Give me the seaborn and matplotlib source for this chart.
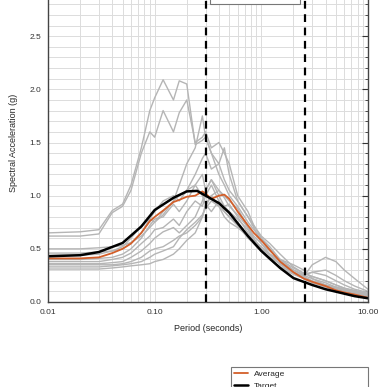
import numpy as np
import pandas as pd
import seaborn as sns
from matplotlib import pyplot as plt
from matplotlib.lines import Line2D
from matplotlib.patches import Rectangle
from matplotlib.ticker import FixedLocator, FixedFormatter, MultipleLocator, NullFormatter

# periods (s) for the target spectrum
target_period = [0.01, 0.02, 0.03, 0.05, 0.075, 0.1, 0.15, 0.2, 0.25, 0.3, 0.4,
                 0.5, 0.75, 1.0, 1.5, 2.0, 3.0, 4.0, 5.0, 7.5, 10.0]
target_sa = [0.43, 0.44, 0.47, 0.555, 0.71, 0.865, 0.98, 1.04, 1.045, 1.0, 0.93,
             0.84, 0.62, 0.48, 0.32, 0.225, 0.16, 0.12, 0.097, 0.055, 0.035]

# periods (s) for the scaled records and their average
rec_period = [0.01, 0.02, 0.03, 0.04, 0.05, 0.06, 0.075, 0.09, 0.1, 0.12, 0.15, 0.17,
              0.2, 0.24, 0.28, 0.3, 0.34, 0.4, 0.45, 0.5, 0.6, 0.75, 0.85, 1.0, 1.2,
              1.5, 2.0, 2.5, 3.0, 4.0, 5.0, 6.0, 7.5, 10.0]

average_sa = [0.41, 0.41, 0.42, 0.46, 0.50, 0.55, 0.65, 0.76, 0.80, 0.86, 0.94, 0.96,
              0.99, 1.00, 1.04, 1.02, 0.97, 1.00, 1.01, 0.97, 0.85, 0.72, 0.65, 0.58,
              0.49, 0.38, 0.28, 0.22, 0.19, 0.15, 0.11, 0.09, 0.07, 0.04]

record_sa = [
    [0.65, 0.66, 0.68, 0.86, 0.92, 1.10, 1.45, 1.80, 1.92, 2.09, 1.90, 2.08, 2.05, 1.48, 1.52, 1.55, 1.40,
     1.30, 1.45, 1.20, 0.95, 0.80, 0.70, 0.55, 0.45, 0.35, 0.27, 0.22, 0.18, 0.14, 0.11, 0.09, 0.07, 0.05],
    [0.62, 0.62, 0.64, 0.84, 0.90, 1.05, 1.40, 1.60, 1.55, 1.80, 1.60, 1.78, 1.90, 1.50, 1.55, 1.60, 1.45,
     1.50, 1.40, 1.30, 1.00, 0.85, 0.72, 0.60, 0.50, 0.38, 0.28, 0.23, 0.19, 0.15, 0.12, 0.10, 0.08, 0.06],
    [0.50, 0.50, 0.51, 0.52, 0.53, 0.56, 0.62, 0.70, 0.75, 0.85, 0.95, 1.10, 1.30, 1.45, 1.75, 1.55, 1.40,
     1.20, 1.10, 1.00, 0.90, 0.75, 0.68, 0.60, 0.52, 0.40, 0.30, 0.25, 0.22, 0.18, 0.14, 0.12, 0.10, 0.07],
    [0.46, 0.46, 0.47, 0.48, 0.50, 0.55, 0.65, 0.78, 0.85, 0.95, 1.00, 0.95, 1.05, 1.20, 1.35, 1.40, 1.25,
     1.30, 1.15, 1.05, 0.95, 0.80, 0.72, 0.62, 0.55, 0.45, 0.33, 0.27, 0.24, 0.20, 0.16, 0.13, 0.11, 0.08],
    [0.40, 0.40, 0.41, 0.42, 0.45, 0.50, 0.60, 0.72, 0.78, 0.80, 0.92, 0.85, 0.95, 1.10, 1.20, 1.05, 1.15,
     1.00, 0.90, 0.92, 0.80, 0.65, 0.58, 0.52, 0.45, 0.38, 0.30, 0.26, 0.28, 0.30, 0.25, 0.20, 0.15, 0.10],
    [0.38, 0.38, 0.38, 0.40, 0.42, 0.46, 0.55, 0.62, 0.68, 0.70, 0.78, 0.72, 0.85, 0.95, 0.90, 1.00, 1.10,
     0.95, 0.85, 0.80, 0.72, 0.60, 0.55, 0.48, 0.40, 0.33, 0.28, 0.24, 0.35, 0.42, 0.38, 0.30, 0.22, 0.12],
    [0.36, 0.36, 0.36, 0.37, 0.38, 0.42, 0.48, 0.55, 0.60, 0.66, 0.70, 0.65, 0.72, 0.80, 0.95, 1.05, 1.15,
     1.05, 1.00, 0.95, 0.88, 0.70, 0.60, 0.50, 0.45, 0.40, 0.35, 0.30, 0.22, 0.16, 0.13, 0.11, 0.09, 0.07],
    [0.35, 0.35, 0.35, 0.35, 0.36, 0.38, 0.42, 0.48, 0.50, 0.52, 0.58, 0.62, 0.65, 0.72, 0.80, 0.92, 0.85,
     0.95, 0.90, 0.85, 0.78, 0.68, 0.58, 0.50, 0.44, 0.36, 0.28, 0.24, 0.20, 0.16, 0.14, 0.12, 0.10, 0.08],
    [0.33, 0.33, 0.33, 0.34, 0.35, 0.36, 0.38, 0.42, 0.45, 0.48, 0.52, 0.60, 0.68, 0.75, 0.82, 0.88, 0.95,
     0.90, 0.80, 0.75, 0.70, 0.62, 0.55, 0.48, 0.42, 0.36, 0.30, 0.25, 0.28, 0.25, 0.20, 0.16, 0.12, 0.09],
    [0.31, 0.31, 0.31, 0.32, 0.33, 0.34, 0.35, 0.36, 0.38, 0.40, 0.45, 0.50, 0.58, 0.65, 0.80, 0.90, 1.00,
     1.05, 0.98, 0.90, 0.82, 0.70, 0.62, 0.55, 0.48, 0.40, 0.32, 0.27, 0.24, 0.20, 0.16, 0.13, 0.10, 0.07],
    [0.44, 0.44, 0.45, 0.48, 0.52, 0.60, 0.72, 0.78, 0.75, 0.82, 0.95, 1.00, 1.05, 1.10, 1.00, 0.92, 1.00,
     0.90, 0.85, 0.80, 0.72, 0.62, 0.55, 0.48, 0.40, 0.32, 0.26, 0.22, 0.19, 0.15, 0.13, 0.11, 0.09, 0.06],
]

# period range of interest
range_bounds = [0.3, 2.55]

x_ticks = [0.01, 0.1, 1.0, 10.0]
x_tick_labels = ["0.01", "0.10", "1.00", "10.00"]
y_ticks = [0.0, 0.5, 1.0, 1.5, 2.0, 2.5, 3.0]
y_tick_labels = ["0.0", "0.5", "1.0", "1.5", "2.0", "2.5", ""]

GRAY = "#b5b5b5"
ORANGE = "#d35f2a"

sns.set_theme(style="white")
plt.rcParams["font.family"] = ["Liberation Sans", "DejaVu Sans"]

# long-form table for the records
df_rec = pd.DataFrame(
    [(i, p, s) for i, sa in enumerate(record_sa) for p, s in zip(rec_period, sa)],
    columns=["record", "period", "sa"],
)

fig = plt.figure(figsize=(3.88, 3.87), dpi=100)
ax = fig.add_axes([48 / 388, 85 / 387, 320 / 388, 319 / 387])

sns.lineplot(data=df_rec, x="period", y="sa", units="record", estimator=None,
             color=GRAY, lw=1.0, ax=ax, legend=False)
sns.lineplot(x=rec_period, y=average_sa, color=ORANGE, lw=1.3, ax=ax)
sns.lineplot(x=target_period, y=target_sa, color="black", lw=1.8, ax=ax)

for b in range_bounds:
    ax.axvline(b, color="black", lw=1.6, ls=(0, (3.5, 2.5)), zorder=5)

ax.set_xscale("log")
ax.set_xlim(0.01, 10)
ax.set_ylim(0, 3.0)

ax.xaxis.set_major_locator(FixedLocator(x_ticks))
ax.xaxis.set_major_formatter(FixedFormatter(x_tick_labels))
ax.xaxis.set_minor_formatter(NullFormatter())
ax.yaxis.set_major_locator(FixedLocator(y_ticks))
ax.yaxis.set_major_formatter(FixedFormatter(y_tick_labels))
ax.yaxis.set_minor_locator(MultipleLocator(0.1))

ax.grid(True, which="both", color="#dcdcdc", lw=0.7)
ax.set_axisbelow(True)
ax.tick_params(which="both", direction="in", top=True, right=True,
               labelsize=6, colors="#333333", pad=5)
ax.tick_params(which="major", length=4, width=0.8)
ax.tick_params(which="minor", length=2.5, width=0.6)
for s in ax.spines.values():
    s.set_color("#444444")
    s.set_linewidth(1.0)

ax.set_xlabel("Period (seconds)", fontsize=6.5, labelpad=6)
ax.set_ylabel("Spectral Acceleration (g)", fontsize=6.5, labelpad=8)

# frame of the upper box between the dashed lines (its content lies above the crop)
fig.patches.append(Rectangle((210 / 388, 383 / 387), 90 / 388, 0.06,
                             transform=fig.transFigure, fill=True, facecolor="white",
                             edgecolor="#777777", lw=0.8, zorder=6))

handles = [
    Line2D([], [], color=ORANGE, lw=1.3),
    Line2D([], [], color="black", lw=1.8),
]
leg = fig.legend(
    handles=handles, labels=["Average", "Target"],
    loc="upper left", bbox_to_anchor=(231 / 388, 0.0, 137 / 388, 20 / 387),
    mode="expand", borderaxespad=0, fontsize=6, handlelength=1.6,
    frameon=True, fancybox=False, edgecolor="#777777", framealpha=1,
)
leg.get_frame().set_linewidth(0.8)

fig.savefig("out.png", dpi=100)
